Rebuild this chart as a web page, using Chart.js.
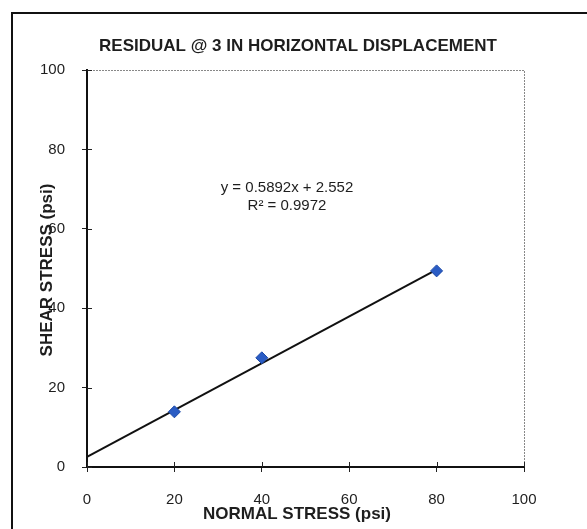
<!DOCTYPE html>
<html lang="en">
<head>
<meta charset="UTF-8" />
<title>Residual @ 3 in horizontal displacement</title>
<script src="https://cdn.jsdelivr.net/npm/chart.js"></script>
<style>
  html, body { margin: 0; padding: 0; background: #fff; }
  #wrap { width: 587px; height: 529px; }
</style>
</head>
<body>
<div id="wrap"><canvas id="chart" width="587" height="529"></canvas></div>
<script>
// measured points
const normalStress = [20, 40, 80];
const shearStress = [13.9, 27.5, 49.4];
// trendline from the picture
const slope = 0.5892;
const intercept = 2.552;
const trendX = [0, 80];
const xTicks = [0, 20, 40, 60, 80, 100];
const yTicks = [0, 20, 40, 60, 80, 100];

const FONT = "'Liberation Sans', Arial, sans-serif";
const INK = "#1e1e1e";

// extra drawing: frame, title, axis titles, inner ticks, dotted box, equation
const decorations = {
    id: "decorations",
    afterDraw(chart) {
        const { ctx, chartArea: a, scales } = chart;
        ctx.save();

        // outer frame (right and bottom edges run off the page)
        ctx.strokeStyle = "#111";
        ctx.lineWidth = 2;
        ctx.strokeRect(12, 13, 700, 600);

        // dotted top + right of plot box
        ctx.strokeStyle = "#888";
        ctx.lineWidth = 1;
        ctx.setLineDash([2, 1]);
        ctx.beginPath();
        ctx.moveTo(a.left, a.top + 0.5);
        ctx.lineTo(a.right + 0.5, a.top + 0.5);
        ctx.lineTo(a.right + 0.5, a.bottom);
        ctx.stroke();
        ctx.setLineDash([]);

        // inward half of the tick marks
        ctx.strokeStyle = "#222";
        ctx.lineWidth = 1;
        ctx.beginPath();
        xTicks.forEach((v) => {
            const px = Math.round(scales.x.getPixelForValue(v)) + 0.5;
            ctx.moveTo(px, a.bottom);
            ctx.lineTo(px, a.bottom - 5);
        });
        yTicks.forEach((v) => {
            const py = Math.round(scales.y.getPixelForValue(v)) + 0.5;
            ctx.moveTo(a.left, py);
            ctx.lineTo(a.left + 5, py);
        });
        ctx.stroke();

        ctx.fillStyle = INK;
        ctx.textAlign = "center";
        ctx.textBaseline = "middle";

        ctx.font = "bold 17px " + FONT;
        ctx.fillText("RESIDUAL @ 3 IN HORIZONTAL DISPLACEMENT", 298, 46);
        ctx.fillText("NORMAL STRESS (psi)", 297, 514);

        ctx.save();
        ctx.translate(47, 270);
        ctx.rotate(-Math.PI / 2);
        ctx.fillText("SHEAR STRESS (psi)", 0, 0);
        ctx.restore();

        ctx.font = "15px " + FONT;
        ctx.fillText("y = " + slope + "x + " + intercept, 287, 188);
        ctx.fillText("R\u00b2 = 0.9972", 287, 206);

        ctx.restore();
    }
};

new Chart(document.getElementById("chart"), {
    type: "scatter",
    data: {
        datasets: [
            {
                label: "trend",
                type: "line",
                data: trendX.map((x) => ({ x: x, y: slope * x + intercept })),
                borderColor: "#111",
                borderWidth: 2,
                pointRadius: 0,
                fill: false,
                order: 2
            },
            {
                label: "data",
                data: normalStress.map((x, i) => ({ x: x, y: shearStress[i] })),
                pointStyle: "rectRot",
                pointRadius: 6,
                backgroundColor: "#2a5cc4",
                borderColor: "#1d4aa8",
                borderWidth: 1,
                order: 1
            }
        ]
    },
    options: {
        responsive: false,
        animation: false,
        layout: { padding: { top: 70, right: 63, left: 0, bottom: 0 } },
        plugins: {
            legend: { display: false },
            tooltip: { enabled: false }
        },
        scales: {
            x: {
                type: "linear",
                min: 0,
                max: 100,
                afterBuildTicks: (s) => { s.ticks = xTicks.map((v) => ({ value: v })); },
                afterFit: (s) => { s.height = 62; },
                grid: { drawOnChartArea: false, tickLength: 5, color: "#222" },
                border: { display: true, color: "#111", width: 2 },
                ticks: {
                    color: INK,
                    font: { family: FONT, size: 15 },
                    padding: 19,
                    maxRotation: 0
                }
            },
            y: {
                type: "linear",
                min: 0,
                max: 100,
                afterBuildTicks: (s) => { s.ticks = yTicks.map((v) => ({ value: v })); },
                afterFit: (s) => { s.width = 87; },
                grid: { drawOnChartArea: false, tickLength: 5, color: "#222" },
                border: { display: true, color: "#111", width: 2 },
                ticks: {
                    color: INK,
                    font: { family: FONT, size: 15 },
                    padding: 17
                }
            }
        }
    },
    plugins: [decorations]
});
</script>
</body>
</html>
